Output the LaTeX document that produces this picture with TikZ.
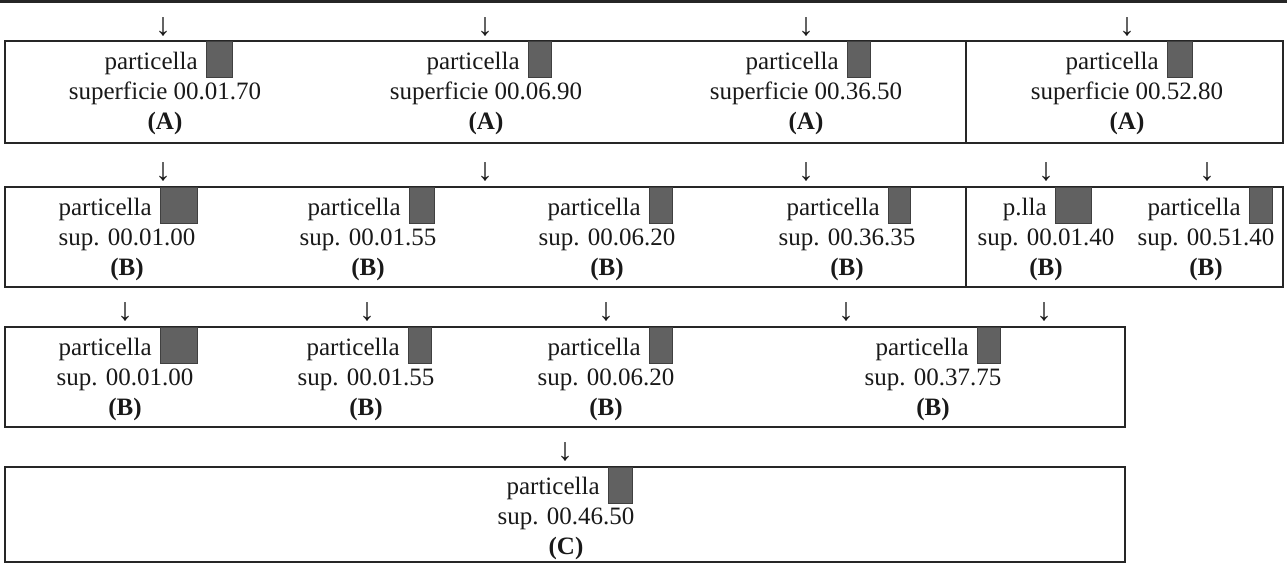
\documentclass[tikz,border=0pt]{standalone}
\usepackage{fontspec}
\setmainfont{Liberation Serif}
\tikzset{
  frame/.style={draw=black!85, line width=1.4pt},
  txt/.style={inner sep=0pt, font=\fontsize{12.5}{15}\selectfont, text=black!90},
  redact/.style={fill=black!62, draw=black!75, line width=0.4pt, inner sep=0pt, minimum height=18pt},
  darr/.style={inner sep=0pt, font=\fontsize{16}{18}\selectfont, text=black!90}
}
% name, cx, first baseline, first word, surface text, letter, box left, box width, row top
\newcommand{\mkcell}[9]{%
  \node[txt, anchor=base east] (#1w) at (#7-8,#3) {#4};
  \node[redact, anchor=north west, minimum width={#8*0.5pt}] (#1r) at (#7,#9) {};
  \node[txt, anchor=base] (#1s) at (#2,#3+30) {#5};
  \node[txt, anchor=base] (#1l) at (#2,#3+60) {\textbf{#6}};
}
\begin{document}
\begin{tikzpicture}[x=0.5pt, y=-0.5pt]
\useasboundingbox (0,0) rectangle (1287,564);

% partial box above
\draw[frame] (0,1.5) -- (1287,1.5);

% arrows row 0 -> 1
\node[darr] (a01) at (163,27) {↓};
\node[darr] (a02) at (485,27) {↓};
\node[darr] (a03) at (806,27) {↓};
\node[darr] (a04) at (1127,27) {↓};

% row 1
\draw[frame] (5,41) rectangle (1283,143);
\draw[frame] (966,41) -- (966,143);
\mkcell{c11}{165}{69}{particella}{superficie 00.01.70}{(A)}{206}{26}{41}
\mkcell{c12}{486}{69}{particella}{superficie 00.06.90}{(A)}{528}{23}{41}
\mkcell{c13}{806}{69}{particella}{superficie 00.36.50}{(A)}{847}{23}{41}
\mkcell{c14}{1127}{69}{particella}{superficie 00.52.80}{(A)}{1167}{25}{41}

% arrows row 1 -> 2
\node[darr] (a11) at (163,172) {↓};
\node[darr] (a12) at (485,172) {↓};
\node[darr] (a13) at (806,172) {↓};
\node[darr] (a14) at (1046,172) {↓};
\node[darr] (a15) at (1207,172) {↓};

% row 2
\draw[frame] (5,187) rectangle (1283,287);
\draw[frame] (966,187) -- (966,287);
\mkcell{c21}{127}{215}{particella}{sup. 00.01.00}{(B)}{160}{37}{187}
\mkcell{c22}{368}{215}{particella}{sup. 00.01.55}{(B)}{409}{25}{187}
\mkcell{c23}{607}{215}{particella}{sup. 00.06.20}{(B)}{649}{23}{187}
\mkcell{c24}{847}{215}{particella}{sup. 00.36.35}{(B)}{888}{22}{187}
\mkcell{c25}{1046}{215}{p.lla}{sup. 00.01.40}{(B)}{1055}{36}{187}
\mkcell{c26}{1206}{215}{particella}{sup. 00.51.40}{(B)}{1249}{23}{187}

% arrows row 2 -> 3
\node[darr] (a21) at (125,312) {↓};
\node[darr] (a22) at (367,312) {↓};
\node[darr] (a23) at (606,312) {↓};
\node[darr] (a24) at (846,312) {↓};
\node[darr] (a25) at (1044,312) {↓};

% row 3
\draw[frame] (5,327) rectangle (1125,427);
\mkcell{c31}{125}{355}{particella}{sup. 00.01.00}{(B)}{160}{37}{327}
\mkcell{c32}{366}{355}{particella}{sup. 00.01.55}{(B)}{408}{23}{327}
\mkcell{c33}{606}{355}{particella}{sup. 00.06.20}{(B)}{649}{23}{327}
\mkcell{c34}{933}{355}{particella}{sup. 00.37.75}{(B)}{977}{23}{327}

% arrow row 3 -> 4
\node[darr] (a31) at (565,452) {↓};

% row 4
\draw[frame] (5,467) rectangle (1125,562);
\mkcell{c41}{566}{494}{particella}{sup. 00.46.50}{(C)}{608}{24}{467}
\end{tikzpicture}
\end{document}
